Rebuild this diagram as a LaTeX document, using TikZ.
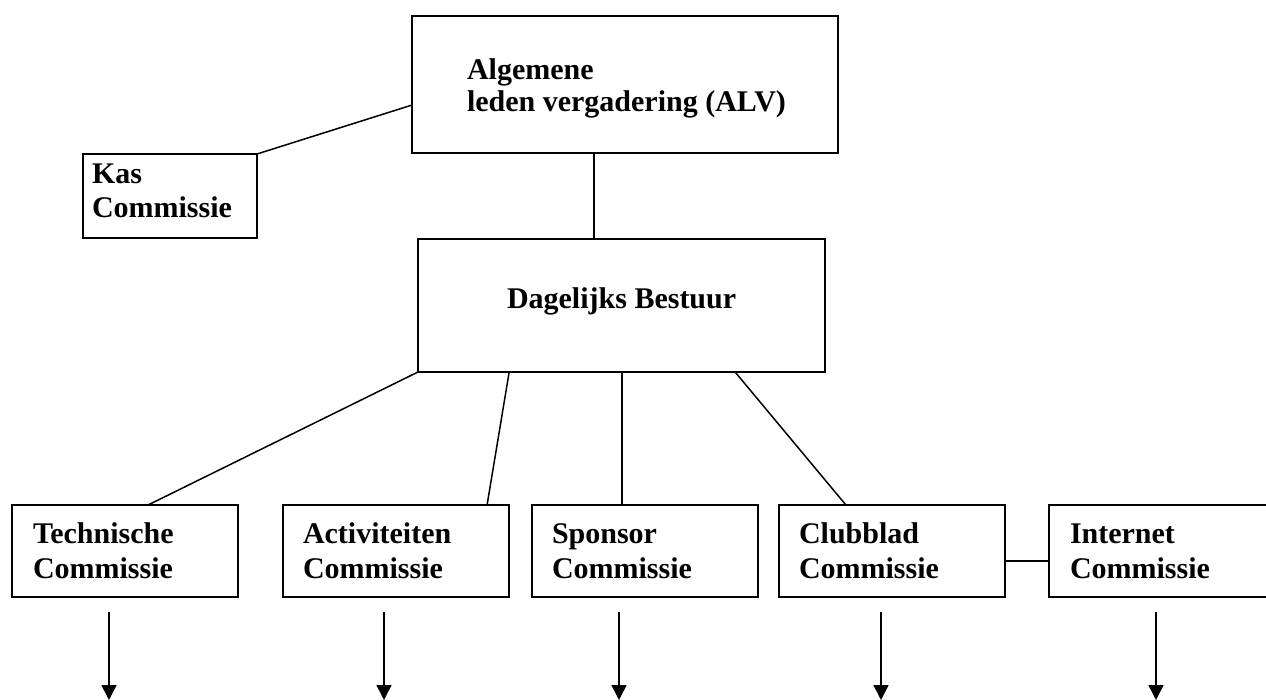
\documentclass[tikz,border=0pt]{standalone}
\usepackage{fontspec}
\setmainfont{Liberation Serif}
\usetikzlibrary{calc,arrows.meta}
\begin{document}
\begin{tikzpicture}[x=1pt,y=-1pt,
  box/.style={draw=black,line width=2pt,inner sep=0pt,outer sep=0pt,fill=none},
  txt/.style={inner sep=0pt,outer sep=0pt,anchor=base west,font=\fontsize{30}{34.5}\selectfont\bfseries},
  conn/.style={draw=black,line width=1.5pt},
  arr/.style={draw=black,line width=1.6pt,-{Triangle[width=15pt,length=15pt]}}]
\useasboundingbox (0,0) rectangle (1266,700);
% boxes
\node[box,minimum width=426pt,minimum height=137pt] (alv) at (625,84.5) {};
\node[box,minimum width=174pt,minimum height=84pt] (kas) at (170,196) {};
\node[box,minimum width=407pt,minimum height=133pt] (dag) at (621.5,305.5) {};
\node[box,minimum width=226pt,minimum height=92pt] (tech) at (125,551) {};
\node[box,minimum width=226pt,minimum height=92pt] (act) at (396,551) {};
\node[box,minimum width=226pt,minimum height=92pt] (spon) at (644.5,551) {};
\node[box,minimum width=226pt,minimum height=92pt] (club) at (892,551) {};
\node[box,minimum width=226pt,minimum height=92pt] (inet) at (1162,551) {};
% texts
\node[txt] (alv1) at (467,80) {Algemene};
\node[txt] (alv2) at (467,112) {leden vergadering (ALV)};
\node[txt] (kas1) at (92,184) {Kas};
\node[txt] (kas2) at (92,218) {Commissie};
\node[txt] (dag1) at (507,309) {Dagelijks Bestuur};
\node[txt] (tech1) at (33,543) {Technische};
\node[txt] (tech2) at (33,578) {Commissie};
\node[txt] (act1) at (303,543) {Activiteiten};
\node[txt] (act2) at (303,578) {Commissie};
\node[txt] (spon1) at (552,543) {Sponsor};
\node[txt] (spon2) at (552,578) {Commissie};
\node[txt] (club1) at (799,543) {Clubblad};
\node[txt] (club2) at (799,578) {Commissie};
\node[txt] (inet1) at (1070,543) {Internet};
\node[txt] (inet2) at (1070,578) {Commissie};
% connection points
\coordinate (alvw) at ($(alv.north west)!0.65!(alv.south west)$);
\coordinate (alvs) at ($(alv.south west)!0.427!(alv.south east)$);
\coordinate (d1) at (dag.south west);
\coordinate (d2) at ($(dag.south west)!0.224!(dag.south east)$);
\coordinate (d3) at ($(dag.south west)!0.501!(dag.south east)$);
\coordinate (d4) at ($(dag.south west)!0.779!(dag.south east)$);
\coordinate (t1) at ($(tech.north west)!0.602!(tech.north east)$);
\coordinate (t2) at ($(act.north west)!0.903!(act.north east)$);
\coordinate (t4) at ($(club.north west)!0.296!(club.north east)$);
\coordinate (ci) at ($(club.north east)!0.61!(club.south east)$);
% connectors
\draw[conn] (kas.north east) -- (alvw);
\draw[conn] (alvs) -- (alvs |- dag.north);
\draw[conn] (d1) -- (t1);
\draw[conn] (d2) -- (t2);
\draw[conn] (d3) -- (d3 |- spon.north);
\draw[conn] (d4) -- (t4);
\draw[conn] (ci) -- (ci -| inet.west);
% arrows
\coordinate (a1s) at (109,612); \coordinate (a1e) at (109,700);
\coordinate (a2s) at (384,612); \coordinate (a2e) at (384,700);
\coordinate (a3s) at (619,612); \coordinate (a3e) at (619,700);
\coordinate (a4s) at (881,612); \coordinate (a4e) at (881,700);
\coordinate (a5s) at (1156,612); \coordinate (a5e) at (1156,700);
\draw[arr] (a1s) -- (a1e);
\draw[arr] (a2s) -- (a2e);
\draw[arr] (a3s) -- (a3e);
\draw[arr] (a4s) -- (a4e);
\draw[arr] (a5s) -- (a5e);
\end{tikzpicture}
\end{document}
